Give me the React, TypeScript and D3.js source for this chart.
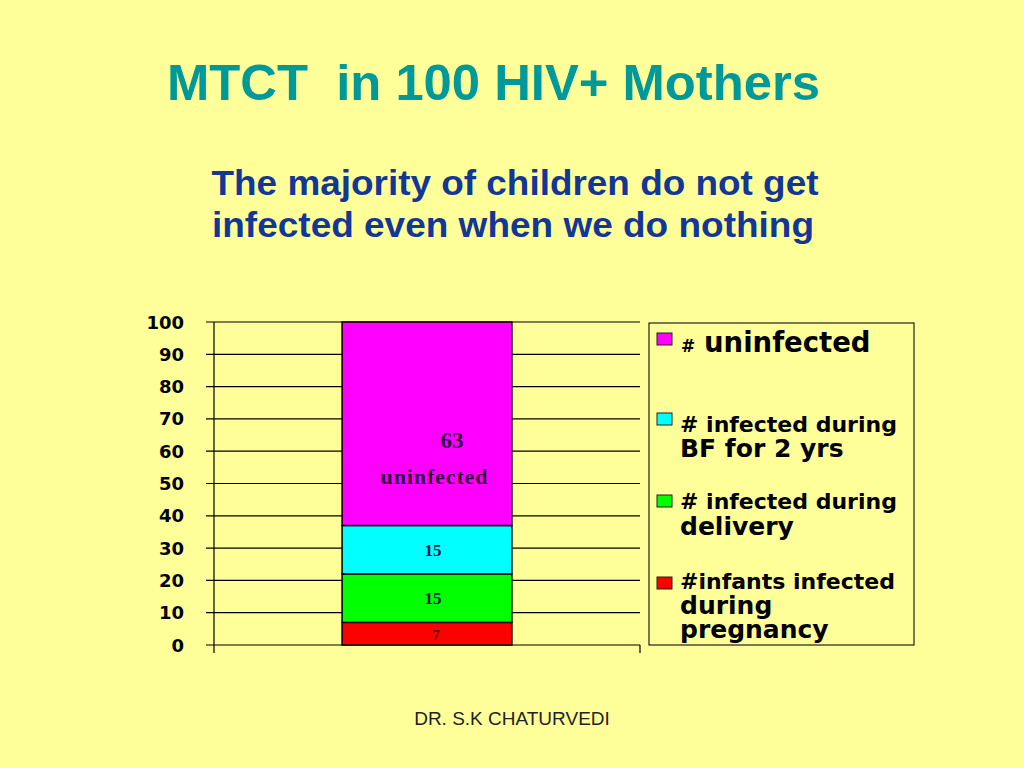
import React from "react";
import * as d3 from "d3";

const categories = ["MTCT"];
const seriesKeys = ["pregnancy", "delivery", "bf", "uninfected"];
const pregnancy = [7];
const delivery = [15];
const bf = [15];
const uninfected = [63];
const seriesColors = ["#ff0000", "#00ff00", "#00ffff", "#ff00ff"];
const yTicks = [0, 10, 20, 30, 40, 50, 60, 70, 80, 90, 100];

const title = "MTCT  in 100 HIV+ Mothers";
const subtitle = ["The majority of children do not get", "infected even when we do nothing"];
const footer = "DR. S.K CHATURVEDI";

const legendItems = [
  { color: "#ff00ff", lines: [["# ", "uninfected"]] },
  { color: "#00ffff", lines: [["# infected during"], ["BF for 2 yrs"]] },
  { color: "#00ff00", lines: [["# infected during"], ["delivery"]] },
  { color: "#ff0000", lines: [["#infants infected"], ["during"], ["pregnancy"]] },
];

export default function App() {
  React.useEffect(() => {
    document.body.style.margin = "0";
  }, []);

  const table = categories.map((c, i) => ({
    cat: c,
    pregnancy: pregnancy[i],
    delivery: delivery[i],
    bf: bf[i],
    uninfected: uninfected[i],
  }));
  const stacked = d3.stack<any>().keys(seriesKeys)(table);

  const left = 214, right = 640, top = 322, bottom = 645;
  const y = d3.scaleLinear().domain([0, 100]).range([bottom, top]);
  const x = d3.scaleBand().domain(categories).range([left, right]).paddingInner(0.43).paddingOuter(0.43);
  const bx = x(categories[0])!;
  const bw = x.bandwidth();
  const cx = bx + bw / 2;

  const sans = "'Liberation Sans', Arial, sans-serif";
  const verd = "'DejaVu Sans', Verdana, sans-serif";
  const serif = "'Liberation Serif', 'Times New Roman', serif";

  const lg = { x: 649, y: 323, w: 265, h: 322 };
  const swatchY = [333, 413, 495, 577];
  const baselines = [[352], [432, 457], [509, 535], [589, 614, 638]];

  return (
    <svg width={1024} height={768} style={{ position: "absolute", left: 0, top: 0, display: "block" }}>
      <rect x={0} y={0} width={1024} height={768} fill="#ffff99" />
      <text x={167} y={100} fontFamily={sans} fontWeight="bold" fontSize={50} fill="#009999"
        textLength={653} lengthAdjust="spacingAndGlyphs" style={{ whiteSpace: "pre" }}>{title}</text>
      <text x={515} y={195} textAnchor="middle" fontFamily={sans} fontWeight="bold" fontSize={35} fill="#133797"
        textLength={607} lengthAdjust="spacingAndGlyphs">{subtitle[0]}</text>
      <text x={513} y={237} textAnchor="middle" fontFamily={sans} fontWeight="bold" fontSize={35} fill="#133797"
        textLength={602} lengthAdjust="spacingAndGlyphs">{subtitle[1]}</text>

      {/* gridlines */}
      {yTicks.map((t) => (
        <line key={"g" + t} x1={206} x2={right} y1={y(t)} y2={y(t)} stroke="#000" strokeWidth={1.2} />
      ))}
      {yTicks.map((t) => (
        <text key={"t" + t} x={184} y={y(t) + 6.5} textAnchor="end" fontFamily={verd} fontWeight="bold"
          fontSize={18} fill="#000">{t}</text>
      ))}
      <line x1={left} x2={left} y1={top} y2={bottom + 8} stroke="#000" strokeWidth={1.2} />
      <line x1={right} x2={right} y1={bottom} y2={bottom + 8} stroke="#000" strokeWidth={1.2} />

      {/* bars */}
      {stacked.map((s, si) =>
        s.map((d, di) => (
          <rect key={si + "-" + di} x={bx} width={bw} y={y(d[1])} height={y(d[0]) - y(d[1])}
            fill={seriesColors[si]} stroke="#000" strokeWidth={1.5} />
        ))
      )}
      <text x={cx + 25} y={448} textAnchor="middle" fontFamily={serif} fontWeight="bold" fontSize={23} fill="#35063f">{uninfected[0]}</text>
      <text x={cx + 7} y={484} textAnchor="middle" fontFamily={serif} fontWeight="bold" fontSize={22} fill="#35063f"
        textLength={107} lengthAdjust="spacing">uninfected</text>
      <text x={cx + 6} y={(y(stacked[2][0][0]) + y(stacked[2][0][1])) / 2 + 6} textAnchor="middle" fontFamily={serif} fontWeight="bold" fontSize={17} fill="#14204a">{bf[0]}</text>
      <text x={cx + 6} y={(y(stacked[1][0][0]) + y(stacked[1][0][1])) / 2 + 6} textAnchor="middle" fontFamily={serif} fontWeight="bold" fontSize={17} fill="#14204a">{delivery[0]}</text>
      <text x={cx + 9} y={(y(stacked[0][0][0]) + y(stacked[0][0][1])) / 2 + 6} textAnchor="middle" fontFamily={serif} fontWeight="bold" fontSize={15} fill="#5a0000">{pregnancy[0]}</text>

      {/* legend */}
      <rect x={lg.x} y={lg.y} width={lg.w} height={lg.h} fill="none" stroke="#222" strokeWidth={1.2} />
      {legendItems.map((it, i) => (
        <g key={"l" + i}>
          <rect x={657} y={swatchY[i]} width={15} height={12} fill={it.color} stroke="#222" strokeWidth={1} />
          {it.lines.map((ln, j) => {
            const by = baselines[i][j];
            if (i === 0) {
              return (
                <g key={j}>
                  <text x={681} y={by} fontFamily={verd} fontWeight="bold" fontSize={17} fill="#000">#</text>
                  <text x={704} y={by} fontFamily={verd} fontWeight="bold" fontSize={27.5} fill="#000">{ln[1]}</text>
                </g>
              );
            }
            const first = j === 0;
            return (
              <text key={j} x={680} y={by} fontFamily={verd} fontWeight="bold" fontSize={first ? 22 : 25} fill="#000">{ln[0]}</text>
            );
          })}
        </g>
      ))}

      <text x={512} y={725} textAnchor="middle" fontFamily={sans} fontSize={19} fill="#222">{footer}</text>
    </svg>
  );
}
